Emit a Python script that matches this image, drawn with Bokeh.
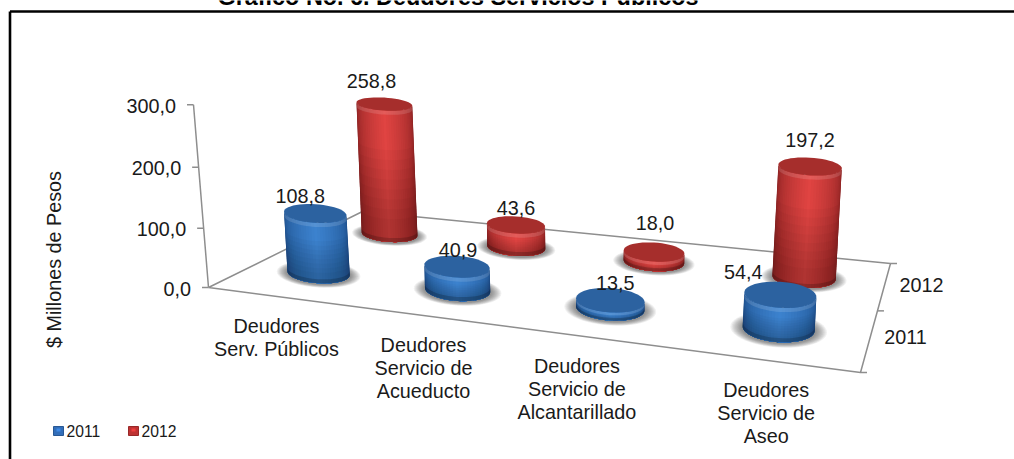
import math
from bokeh.plotting import figure
from bokeh.models import Range1d, ColumnDataSource
from bokeh.core.properties import value
from bokeh.embed import file_html
from bokeh.resources import INLINE

# ---- data ----
title = "Gráfico No. 6. Deudores Servicios Públicos"
categories = [["Deudores", "Serv. Públicos"],
              ["Deudores", "Servicio de", "Acueducto"],
              ["Deudores", "Servicio de", "Alcantarillado"],
              ["Deudores", "Servicio de", "Aseo"]]
series_names = ["2011", "2012"]
values_2011 = [108.8, 40.9, 13.5, 54.4]
values_2012 = [258.8, 43.6, 18.0, 197.2]
tick_values = [0, 100, 200, 300]
tick_labels = ["0,0", "100,0", "200,0", "300,0"]
axis_title = "$ Millones de Pesos"

# ---- 3D projection (floor corners -> homography; height -> vanishing point) ----
FL, FR, BR, BL = (208, 287), (860, 372), (890, 263), (362, 211)
dx1, dx2, sx = FR[0]-BR[0], BL[0]-BR[0], FL[0]-FR[0]+BR[0]-BL[0]
dy1, dy2, sy = FR[1]-BR[1], BL[1]-BR[1], FL[1]-FR[1]+BR[1]-BL[1]
det = dx1*dy2 - dx2*dy1
G = (sx*dy2 - dx2*sy)/det
H = (dx1*sy - sx*dy1)/det
A, B, C = FR[0]-FL[0]+G*FR[0], BL[0]-FL[0]+H*BL[0], FL[0]
D, E, F = FR[1]-FL[1]+G*FR[1], BL[1]-FL[1]+H*BL[1], FL[1]
VP = (566, 4650)
KH = -0.000134
BAR = 0.955


def proj(u, v, h=0.0):
    w = G*u + H*v + 1 + h*KH
    return ((A*u + B*v + C + h*KH*VP[0])/w, (D*u + E*v + F + h*KH*VP[1])/w, w)


SHEAR = 0.06
PALETTE = [
    dict(center=(60, 130, 206), edge=(28, 76, 136), top=(44, 98, 160), swatch=(50, 110, 185)),
    dict(center=(224, 68, 66), edge=(134, 32, 32), top=(166, 46, 44), swatch=(190, 50, 50)),
]


def hexc(c, m=1.0):
    return "#%02x%02x%02x" % tuple(max(0, min(255, int(round(x*m)))) for x in c)


xs, ys, fills, alphas = [], [], [], []


def add(px, py, fill, alpha=1.0):
    xs.append(px); ys.append(py); fills.append(fill); alphas.append(alpha)


def arc(cx, cy, rx, ry, t0, t1, n=32):
    ts = [t0 + (t1-t0)*k/n for k in range(n+1)]
    return ([cx + rx*math.cos(t) for t in ts],
            [cy + ry*math.sin(t) + SHEAR*rx*math.cos(t) for t in ts])


label_offsets = [[(-15, -18), (1, -17), (5, -17), (-37, -23)],
                 [(-13, -23), (0, -17), (1, -29), (0, -27)]]
lab_x, lab_y, lab_t = [], [], []

LAYERS = 18
VLAYERS = 8
for j, vals in reversed(list(enumerate([values_2011, values_2012]))):
    pal = PALETTE[j]
    for i, val in enumerate(vals):
        u, v = (i+.5)/4, (j+.5)/2
        bx, by, bw = proj(u, v)
        tx, ty, tw = proj(u, v, val*BAR)
        rx_b, ry_b = 32.4/bw, 11.0/(bw*bw)
        rx_t = 32.4/bw
        ry_t = ry_b*(1 - 0.0008*val)
        # soft shadow on the floor
        for k in range(10):
            f = 1 - k/10
            sxp, syp = arc(bx, by+1, rx_b*(1+.34*f), ry_b*(1+.32*f), 0, 2*math.pi, 48)
            add(sxp, syp, "#303030", 0.065)

        def band(a, b, t0=0.0, t1=math.pi):
            """side surface between height fractions a and b (0 = top, 1 = base)"""
            ra = (tx+(bx-tx)*a, ty+(by-ty)*a, rx_t+(rx_b-rx_t)*a, ry_t+(ry_b-ry_t)*a)
            rb = (tx+(bx-tx)*b, ty+(by-ty)*b, rx_t+(rx_b-rx_t)*b, ry_t+(ry_b-ry_t)*b)
            xa, ya = arc(*ra, t0, t1)
            xb, yb = arc(*rb, t1, t0)
            return xa+xb, ya+yb

        # horizontal shading: nested surfaces, edge colour first, highlight last
        for k in range(LAYERS):
            f = k/(LAYERS-1)
            half = (math.pi/2)*(1-f*.97)
            col = tuple(pal["edge"][q] + (pal["center"][q]-pal["edge"][q])*(f**.75) for q in range(3))
            px, py = band(0, 1, math.pi/2-half, math.pi/2+half)
            add(px, py, hexc(col))
        # vertical shading towards the base
        for k in range(VLAYERS):
            px, py = band(.3+.6*k/VLAYERS, 1)
            add(px, py, "#000000", 0.028)
        # bevels
        Hpx = by - ty
        b_ = min(4.0, Hpx/3)/Hpx
        px, py = band(0, b_)
        add(px, py, "#ffffff", 0.13)
        px, py = band(1-b_, 1)
        add(px, py, "#000000", 0.18)
        # top face
        tpx, tpy = arc(tx, ty, rx_t, ry_t, 0, 2*math.pi, 48)
        add(tpx, tpy, hexc(pal["top"]))
        ox, oy = label_offsets[j][i]
        lab_x.append(tx+ox); lab_y.append(ty+oy)
        lab_t.append(f"{val:.1f}".replace(".", ","))

p = figure(width=1014, height=459, x_range=Range1d(0, 1014), y_range=Range1d(459, 0),
           output_backend="svg", toolbar_location=None, min_border=0,
           outline_line_color=None, background_fill_color="white",
           border_fill_color="white")
p.xaxis.visible = False
p.yaxis.visible = False
p.grid.visible = False

# frame around the chart
p.segment([9.5, 9.5], [11, 11], [1014, 9.5], [11, 459], line_color="black", line_width=2.6)

# floor and axes
GRAY = "#8e8e8e"
floor = [FL, FR, BR, BL, FL]
p.line([c[0] for c in floor], [c[1] for c in floor], line_color=GRAY, line_width=1.5)
ax_pts = [proj(0, 0, t) for t in tick_values]
p.line([q[0] for q in ax_pts], [q[1] for q in ax_pts], line_color=GRAY, line_width=1.5)
p.segment([q[0]-6.5 for q in ax_pts], [q[1] for q in ax_pts],
          [q[0] for q in ax_pts], [q[1] for q in ax_pts], line_color=GRAY, line_width=1.5)
side = [proj(1, t) for t in (0, .5, 1)]
p.segment([q[0] for q in side], [q[1] for q in side],
          [q[0]+6.5 for q in side], [q[1] for q in side], line_color=GRAY, line_width=1.5)

src = ColumnDataSource(dict(xs=xs, ys=ys, fill=fills, alpha=alphas))
p.patches("xs", "ys", source=src, fill_color="fill", fill_alpha="alpha", line_color=None)

FONT = value("Liberation Sans")
SIZE = value("19.8px")
TXT = "#1a1a1a"


def txt(x, y, t, align="center", size=SIZE, style="normal", angle=0.0, base="middle", color=TXT):
    p.text(x=x, y=y, text=t, text_font=FONT, text_font_size=size, text_color=color,
           text_align=align, text_baseline=base, text_font_style=style, angle=angle)


# value labels
txt(lab_x, lab_y, lab_t)
# tick labels
txt([q[0]-17.5 for q in ax_pts], [q[1]+1 for q in ax_pts], tick_labels, align="right")
# category labels
cat_dx = [0, 1, -7, 3]
cx_, cy_, ct_ = [], [], []
for i, lines_ in enumerate(categories):
    fx, fy, _ = proj((i+.5)/4, 0)
    for k, line_ in enumerate(lines_):
        cx_.append(fx+cat_dx[i]); cy_.append(fy+30+23*k); ct_.append(line_)
txt(cx_, cy_, ct_)
# series labels
ser = [proj(1, (j+.5)/2) for j in range(2)]
txt([ser[0][0]+36, ser[1][0]+37], [ser[0][1]-3, ser[1][1]-1], series_names)
# axis title
txt([53], [259], [axis_title], angle=math.pi/2)
# chart title
txt([457.5], [-4], [title], size=value("23.4px"), style="bold", base="alphabetic", color="black")

# legend
for j, (sxp, tx_) in enumerate(zip((53, 128), (66, 141))):
    c = PALETTE[j]["swatch"]
    p.quad(left=[sxp], right=[sxp+10], top=[426], bottom=[435], fill_color=hexc(c), line_color=hexc(c, .8))
    p.quad(left=[sxp+3], right=[sxp+7], top=[428], bottom=[431], fill_color=hexc(c, 1.25), line_color=None)
    txt([tx_], [430], [series_names[j]], align="left", size=value("15.7px"))

open("out.html", "w").write(file_html(p, INLINE))
